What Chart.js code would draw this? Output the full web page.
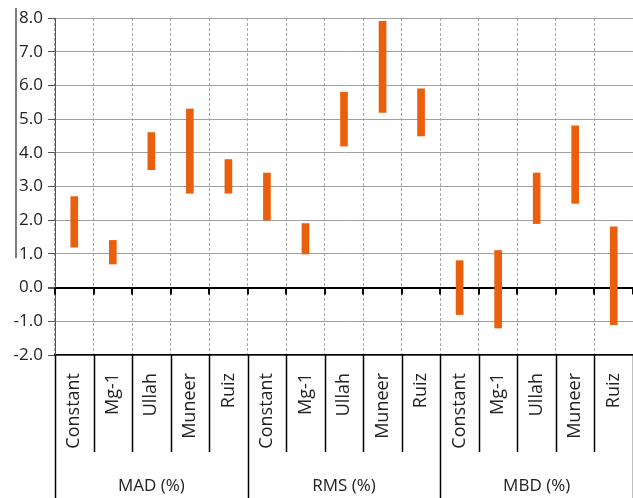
<!DOCTYPE html>
<html><head><meta charset="utf-8">
<script src="https://cdn.jsdelivr.net/npm/chart.js@4"></script>
<style>html,body{margin:0;padding:0;background:#fff}#wrap{width:633px;height:498px}</style>
</head><body><div id="wrap"><canvas id="grafica"></canvas></div>
<script>
// metodos y grupos
var metodos = ['Constant', 'Mg-1', 'Ullah', 'Muneer', 'Ruiz'];
var grupos = ['MAD (%)', 'RMS (%)', 'MBD (%)'];
// rango de error por metodo (min / max)
var minimos = [1.2, 0.7, 3.5, 2.8, 2.8,  2.0, 1.0, 4.2, 5.2, 4.5,  -0.8, -1.2, 1.9, 2.5, -1.1];
var maximos = [2.7, 1.4, 4.6, 5.3, 3.8,  3.4, 1.9, 5.8, 7.9, 5.9,   0.8,  1.1, 3.4, 4.8,  1.8];
var ticksY = [-2, -1, 0, 1, 2, 3, 4, 5, 6, 7, 8];

var etiquetas = [];
var rangos = [];
for (var g = 0; g < grupos.length; g++) {
  for (var m = 0; m < metodos.length; m++) {
    etiquetas.push(metodos[m]);
    var k = g * metodos.length + m;
    rangos.push([minimos[k], maximos[k]]);
  }
}

var fuente = "'Open Sans', sans-serif";

var tabla = {
  id: 'tabla',
  afterDraw: function(chart) {
    var ctx = chart.ctx;
    var y = chart.scales.y;
    var area = chart.chartArea;
    var ancho = (area.right - area.left) / etiquetas.length;
    var y0 = y.getPixelForValue(0);
    var h = chart.height;
    ctx.save();
    ctx.strokeStyle = '#000';
    // marcas en la linea del cero
    ctx.lineWidth = 2;
    for (var i = 0; i <= etiquetas.length; i++) {
      var xb = Math.round(area.left + i * ancho);
      ctx.beginPath(); ctx.moveTo(xb, y0); ctx.lineTo(xb, y0 + 7); ctx.stroke();
    }
    // separadores de la tabla de categorias
    ctx.lineWidth = 1.5;
    for (var i = 0; i <= etiquetas.length; i++) {
      var xb = Math.round(area.left + i * ancho) + 0.5;
      var fin = (i % metodos.length === 0) ? h : area.bottom + 97;
      ctx.beginPath(); ctx.moveTo(xb, area.bottom); ctx.lineTo(xb, fin); ctx.stroke();
    }
    // etiquetas de grupo
    ctx.fillStyle = '#222';
    ctx.font = '17px ' + fuente;
    ctx.textAlign = 'center';
    ctx.textBaseline = 'middle';
    for (var g = 0; g < grupos.length; g++) {
      var xc = area.left + (g * metodos.length + metodos.length / 2) * ancho;
      ctx.fillText(grupos[g], xc, 486);
    }
    // linea suelta a la izquierda
    ctx.strokeStyle = '#555';
    ctx.lineWidth = 1.5;
    ctx.beginPath(); ctx.moveTo(16, 8); ctx.lineTo(16, 258); ctx.stroke();
    ctx.restore();
  }
};

var ctx = document.getElementById('grafica');
var grafica = new Chart(ctx, {
  type: 'bar',
  data: {
    labels: etiquetas,
    datasets: [{
      label: 'rango',
      data: rangos,
      backgroundColor: '#E95F0C',
      borderWidth: 0,
      barThickness: 7,
      borderSkipped: false
    }]
  },
  options: {
    responsive: true,
    maintainAspectRatio: false,
    animation: false,
    layout: { padding: { top: 18, right: 0, left: 0, bottom: 0 } },
    plugins: { legend: { display: false }, tooltip: { enabled: false } },
    scales: {
      x: {
        offset: true,
        grid: { color: '#a8a8a8', lineWidth: 1, drawTicks: false, offset: true },
        border: { display: true, color: '#000', width: 1.5, dash: [3, 2] },
        ticks: {
          autoSkip: false, maxRotation: 90, minRotation: 90, padding: 18,
          color: '#222', font: { family: fuente, size: 18 }
        },
        afterFit: function(s) { s.height = 143; s.paddingLeft = 0; s.paddingRight = 0; }
      },
      y: {
        min: -2, max: 8,
        afterBuildTicks: function(s) { s.ticks = ticksY.map(function(v) { return { value: v }; }); },
        grid: {
          color: function(c) { return c.tick && c.tick.value === 0 ? '#000' : '#a0a0a0'; },
          lineWidth: function(c) { return c.tick && c.tick.value === 0 ? 2 : 1; },
          tickLength: 7, tickColor: '#555'
        },
        border: { color: '#555', width: 1 },
        ticks: {
          padding: 5, color: '#222', font: { family: fuente, size: 17 },
          callback: function(v) { return Number(v).toFixed(1); }
        },
        afterFit: function(s) { s.width = 55; }
      }
    }
  },
  plugins: [tabla]
});
</script>
</body></html>
